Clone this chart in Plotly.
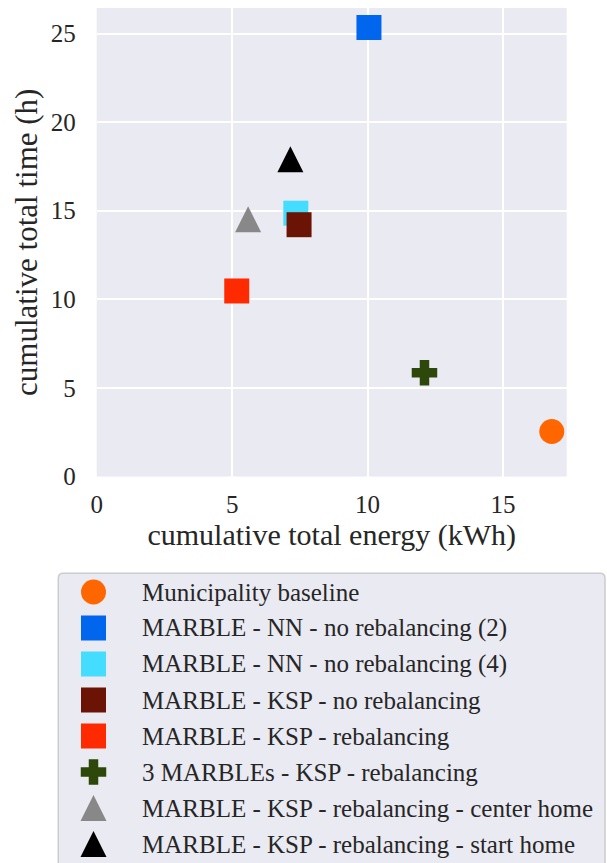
import plotly.graph_objects as go

# Cumulative totals per configuration
labels = [
    "Municipality baseline",
    "MARBLE - NN - no rebalancing (2)",
    "MARBLE - NN - no rebalancing (4)",
    "MARBLE - KSP - no rebalancing",
    "MARBLE - KSP - rebalancing",
    "3 MARBLEs - KSP - rebalancing",
    "MARBLE - KSP - rebalancing - center home",
    "MARBLE - KSP - rebalancing - start home",
]
energy_kwh = [16.80, 10.05, 7.35, 7.47, 5.17, 12.10, 5.59, 7.15]
time_h = [2.54, 25.34, 14.86, 14.21, 10.47, 5.86, 14.52, 17.90]

colors = ["#FF6600", "#0066EE", "#44DDFF", "#6B1305", "#FF2A00", "#2D480A", "#888888", "#000000"]
symbols = ["circle", "square", "square", "square", "square", "cross", "triangle", "triangle"]

x_ticks = [0, 5, 10, 15]
y_ticks = [0, 5, 10, 15, 20, 25]

W, H = 607, 863
BG = "#EAEAF2"
TXT = "#262626"
FONT = "Liberation Serif"

# plot area in pixels
PL, PR, PT, PB = 96.7, 566.7, 8.0, 476.5
# legend box in pixels
LL, LR, LT = 58.3, 605.0, 573.3
ROW0, ROW_STEP = 592.0, 36.0
MARK_X, TEXT_X = 93.5, 140.0


def marker_style(i):
    sym = symbols[i]
    m = dict(color=colors[i], symbol=sym, size=25, line=dict(width=0, color=colors[i]))
    if sym == "cross":
        m.update(size=20, line=dict(width=1.5, color=colors[i]))
    elif sym == "triangle":
        # isosceles triangle (equal width and height) centred on the point:
        # an arrow-down head flipped upward and pushed back by half its height
        m.update(symbol="arrow-down", angle=180, size=26, standoff=13)
    return m


fig = go.Figure()

for i, name in enumerate(labels):
    fig.add_trace(go.Scatter(
        x=[energy_kwh[i]], y=[time_h[i]], mode="markers", name=name,
        marker=marker_style(i), showlegend=False, hoverinfo="name+x+y",
        xaxis="x", yaxis="y", cliponaxis=False,
    ))

# legend glyphs, one row per configuration
leg_rows = list(range(len(labels)))
y2_top = -(ROW0 - LT) / ROW_STEP
y2_bot = y2_top + (H - LT) / ROW_STEP
for i in leg_rows:
    fig.add_trace(go.Scatter(
        x=[MARK_X - LL], y=[i], mode="markers", marker=marker_style(i),
        showlegend=False, hoverinfo="skip", xaxis="x2", yaxis="y2", cliponaxis=False,
    ))
    fig.add_annotation(
        x=TEXT_X - LL, y=i, xref="x2", yref="y2", text=labels[i], showarrow=False,
        xanchor="left", yanchor="middle", font=dict(family=FONT, size=25, color=TXT),
    )

# backgrounds: plot area and rounded legend frame
r = 5.0
def px(x):
    return x / W
def py(y):
    return 1 - y / H
bottom = H + 20
legend_path = (
    f"M {px(LL)},{py(LT + r)} "
    f"Q {px(LL)},{py(LT)} {px(LL + r)},{py(LT)} "
    f"L {px(LR - r)},{py(LT)} "
    f"Q {px(LR)},{py(LT)} {px(LR)},{py(LT + r)} "
    f"L {px(LR)},{py(bottom)} L {px(LL)},{py(bottom)} Z"
)

fig.update_layout(
    width=W, height=H,
    margin=dict(l=0, r=0, t=0, b=0),
    paper_bgcolor="white",
    plot_bgcolor="rgba(0,0,0,0)",
    font=dict(family=FONT, color=TXT),
    showlegend=False,
    shapes=[
        dict(type="rect", xref="x domain", yref="y domain", x0=0, x1=1, y0=0, y1=1,
             fillcolor=BG, line=dict(width=0), layer="below"),
        dict(type="path", xref="paper", yref="paper", path=legend_path,
             fillcolor=BG, line=dict(color="#CCCCCC", width=1.5), layer="below"),
    ],
    xaxis=dict(
        domain=[px(PL), px(PR)], range=[0, 17.35], tickvals=x_ticks,
        ticktext=[str(v) for v in x_ticks], showgrid=True, gridcolor="white", gridwidth=1.8,
        zeroline=False, showline=False, ticks="", ticklabelstandoff=10,
        tickfont=dict(family=FONT, size=25, color=TXT), automargin=False,
        title=dict(text="cumulative total energy (kWh)", font=dict(family=FONT, size=30, color=TXT), standoff=6),
        anchor="y",
    ),
    yaxis=dict(
        domain=[py(PB), py(PT)], range=[0, 26.44], tickvals=y_ticks,
        ticktext=[str(v) for v in y_ticks], showgrid=True, gridcolor="white", gridwidth=1.8,
        zeroline=False, showline=False, ticks="", ticklabelstandoff=20,
        tickfont=dict(family=FONT, size=25, color=TXT), automargin=False,
        title=dict(text="cumulative total time (h)", font=dict(family=FONT, size=31, color=TXT), standoff=3),
        anchor="x",
    ),
    xaxis2=dict(
        domain=[px(LL), px(LR)], range=[0, LR - LL], visible=False, fixedrange=True, anchor="y2",
    ),
    yaxis2=dict(
        domain=[0, py(LT)], range=[y2_bot, y2_top], visible=False, fixedrange=True, anchor="x2",
    ),
)

fig.write_html("out.html")
